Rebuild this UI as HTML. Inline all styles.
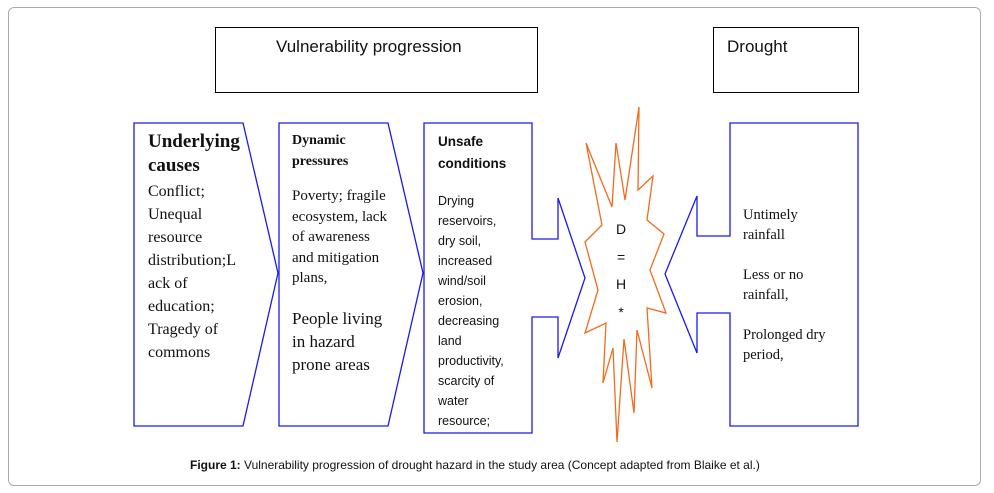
<!DOCTYPE html>
<html><head><meta charset="utf-8"><style>
body{margin:0;width:994px;height:493px;background:#fff;position:relative;overflow:hidden;font-family:"Liberation Serif",serif;color:#111}
.t{position:absolute;white-space:nowrap}
.s{font-family:"Liberation Sans",sans-serif}
</style></head><body>
<div style="position:absolute;left:8px;top:7px;width:971px;height:477px;border:1px solid #aaa;border-radius:6px"></div>
<div style="position:absolute;left:215px;top:27px;width:321px;height:64px;border:1px solid #000"></div>
<div style="position:absolute;left:713px;top:27px;width:144px;height:64px;border:1px solid #000"></div>
<div class="t s" style="left:276px;top:37px;font-size:17px">Vulnerability progression</div>
<div class="t s" style="left:727px;top:37px;font-size:17px">Drought</div>
<svg width="994" height="493" style="position:absolute;left:0;top:0" fill="none" stroke-width="1.3">
<polygon stroke="#1a1aee" points="134,123 243,123 278,273 243,426 134,426"/>
<polygon stroke="#1a1aee" points="279,123 388,123 423,273 388,426 279,426"/>
<polygon stroke="#1a1aee" points="424,123 532,123 532,239 558,239 558,198 585,278 558,358 558,317 532,317 532,433 424,433"/>
<polygon stroke="#1a1aee" points="730,123 858,123 858,426 730,426 730,313 697,313 697,353 665,274 697,196 697,236 730,236"/>
<polygon stroke="#f26b1d" points="639,107 638,190 653,176 647,220 664,234 650,270 666,313 647,308 652,388 637,330 634,413 624,339 617,442 613,348 603,383 606,323 585,333 598,290 585,242 602,225 586,143 612,207 616,143 625,200"/>
</svg>
<div class="t" style="left:148px;top:130px;font-size:19px;font-weight:bold;line-height:24px">Underlying<br>causes</div>
<div class="t" style="left:148px;top:180px;font-size:16px;line-height:23px">Conflict;<br>Unequal<br>resource<br>distribution;L<br>ack of<br>education;<br>Tragedy of<br>commons</div>
<div class="t" style="left:292px;top:130px;font-size:14px;font-weight:bold;line-height:21px">Dynamic<br>pressures</div>
<div class="t" style="left:292px;top:186px;font-size:15px;line-height:20.5px">Poverty; fragile<br>ecosystem, lack<br>of awareness<br>and mitigation<br>plans,</div>
<div class="t" style="left:292px;top:307px;font-size:17px;line-height:23px">People living<br>in hazard<br>prone areas</div>
<div class="t s" style="left:438px;top:131px;font-size:13.5px;font-weight:bold;line-height:22px">Unsafe<br>conditions</div>
<div class="t s" style="left:438px;top:191px;font-size:12.5px;line-height:20px">Drying<br>reservoirs,<br>dry soil,<br>increased<br>wind/soil<br>erosion,<br>decreasing<br>land<br>productivity,<br>scarcity of<br>water<br>resource;</div>
<div class="t s" style="left:616px;top:216px;font-size:14px;line-height:27.5px;text-align:center">D<br>=<br>H<br>*</div>
<div class="t" style="left:743px;top:205px;font-size:14.5px;line-height:20px">Untimely<br>rainfall<br><br>Less or no<br>rainfall,<br><br>Prolonged dry<br>period,</div>
<div class="t s" style="left:190px;top:458px;font-size:12px"><b>Figure 1:</b> Vulnerability progression of drought hazard in the study area (Concept adapted from Blaike et al.)</div>
</body></html>
